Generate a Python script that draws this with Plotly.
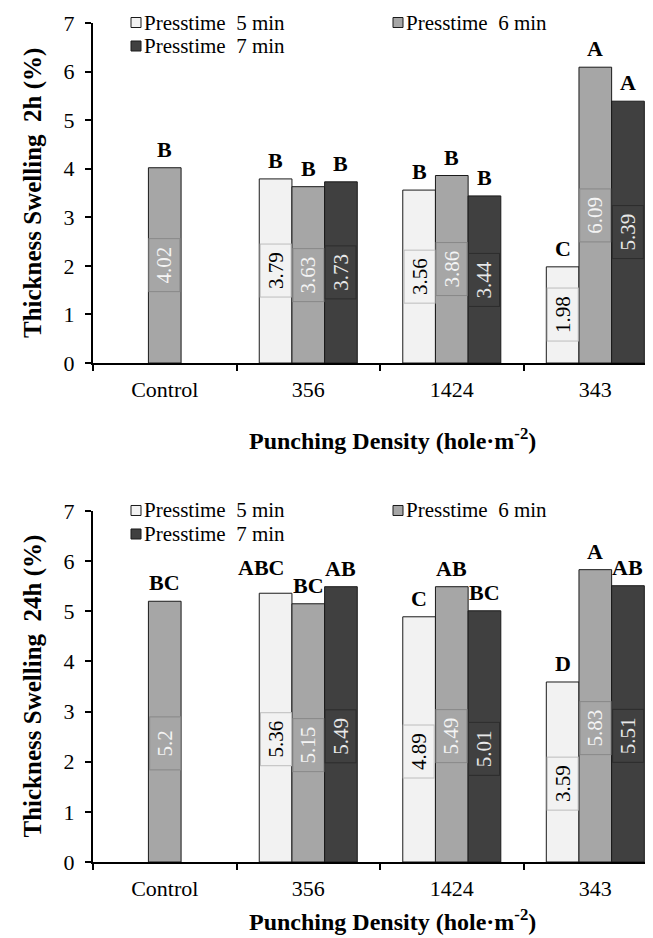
import plotly.graph_objects as go

# ---------------- data ----------------
categories = ["Control", "356", "1424", "343"]
series_names = ["Presstime\u00a0 5 min", "Presstime\u00a0 6 min", "Presstime\u00a0 7 min"]

ts2h_5 = [None, 3.79, 3.56, 1.98]
ts2h_6 = [4.02, 3.63, 3.86, 6.09]
ts2h_7 = [None, 3.73, 3.44, 5.39]
grp2h_5 = [None, "B", "B", "C"]
grp2h_6 = ["B", "B", "B", "A"]
grp2h_7 = [None, "B", "B", "A"]

ts24h_5 = [None, 5.36, 4.89, 3.59]
ts24h_6 = [5.2, 5.15, 5.49, 5.83]
ts24h_7 = [None, 5.49, 5.01, 5.51]
grp24h_5 = [None, "ABC", "C", "D"]
grp24h_6 = ["BC", "BC", "AB", "A"]
grp24h_7 = [None, "AB", "BC", "AB"]

y_ticks = [0, 1, 2, 3, 4, 5, 6, 7]
y_title_2h = "Thickness Swelling\u00a0 2h (%)"
y_title_24h = "Thickness Swelling\u00a0 24h (%)"
x_title = "Punching Density (hole\u00b7m<sup>-2</sup>)"

# ---------------- styles ----------------
FONT = "Liberation Serif, Times New Roman, serif"
bar_colors = ["#f2f2f2", "#a6a6a6", "#404040"]
label_text_colors = ["#000000", "#f4f4f4", "#e8e8e8"]
label_border_colors = ["#bdbdbd", "#888888", "#2c2c2c"]
BARGAP = 0.317
W = (1 - BARGAP) / 3

panels = [
    dict(vals=[ts2h_5, ts2h_6, ts2h_7], grps=[grp2h_5, grp2h_6, grp2h_7],
         xa="x", ya="y", ytitle=y_title_2h, domain=[0.59476, 1.0],
         label_shift=0, xtitle_shift=-76),
    dict(vals=[ts24h_5, ts24h_6, ts24h_7], grps=[grp24h_5, grp24h_6, grp24h_7],
         xa="x2", ya="y2", ytitle=y_title_24h, domain=[0.0, 0.41836],
         label_shift=-12, xtitle_shift=-58),
]
# manual nudges for crowded letters: (panel, category, series) -> (dx, dy) px
letter_nudges = {(1, 1, 0): (-15, 7)}

fig = go.Figure()
annotations = []
shapes = []

for p, panel in enumerate(panels):
    xdom = panel["xa"] + " domain"
    ydom = panel["ya"] + " domain"
    for j, vals in enumerate(panel["vals"]):
        fig.add_trace(go.Bar(
            x=list(range(len(categories))), y=vals, name=series_names[j],
            marker=dict(color=bar_colors[j], line=dict(color="#1a1a1a", width=1)),
            xaxis=panel["xa"], yaxis=panel["ya"], showlegend=False,
            hoverinfo="name+y",
        ))
        for i, v in enumerate(vals):
            if v is None:
                continue
            xpos = i + (j - 1) * W
            # value label box in the middle of the bar
            annotations.append(dict(
                x=xpos, y=v / 2, xref=panel["xa"], yref=panel["ya"],
                text=f"{v:g}", showarrow=False, textangle=-90,
                font=dict(family=FONT, size=21, color=label_text_colors[j]),
                bgcolor=bar_colors[j], bordercolor=label_border_colors[j],
                borderwidth=1, borderpad=0, width=52, height=30,
                xanchor="center", yanchor="middle", yshift=panel["label_shift"],
            ))
            # significance letter
            dx, dy = letter_nudges.get((p, i, j), (0, 0))
            annotations.append(dict(
                x=xpos, y=v, xref=panel["xa"], yref=panel["ya"],
                text="<b>%s</b>" % panel["grps"][j][i], showarrow=False,
                font=dict(family=FONT, size=22, color="black"),
                xanchor="center", yanchor="bottom", yshift=4 + dy, xshift=dx,
            ))
        # manual legend entry
        col, row = j % 2, j // 2
        yc = 0.5 - 23.5 * row
        shapes.append(dict(
            type="rect", xref=xdom, yref=ydom, xsizemode="pixel", ysizemode="pixel",
            xanchor=0, yanchor=1, x0=38 + 262 * col, x1=48 + 262 * col,
            y0=yc - 5, y1=yc + 5, fillcolor=bar_colors[j],
            line=dict(color="#1a1a1a", width=1),
        ))
        annotations.append(dict(
            x=0, y=1, xref=xdom, yref=ydom, text=series_names[j], showarrow=False,
            font=dict(family=FONT, size=21, color="black"), height=20, borderpad=0,
            xanchor="left", yanchor="middle", xshift=50 + 262 * col, yshift=yc,
        ))
    # axis titles
    annotations.append(dict(
        x=0, y=0.5, xref=xdom, yref=ydom, text="<b>%s</b>" % panel["ytitle"],
        showarrow=False, textangle=-90, xanchor="center", yanchor="middle",
        xshift=-60, font=dict(family=FONT, size=25, color="black"),
    ))
    annotations.append(dict(
        x=0.534, y=0, xref=xdom, yref=ydom, text="<b>%s</b>" % x_title,
        showarrow=False, xanchor="center", yanchor="middle",
        yshift=panel["xtitle_shift"], font=dict(family=FONT, size=24, color="black"),
    ))

axis_common_x = dict(
    range=[-0.5, 3.402], tickmode="array", tickvals=list(range(len(categories))),
    ticktext=categories, ticks="", showline=True, linecolor="black", linewidth=2,
    showgrid=False, zeroline=False, ticklabelstandoff=6,
    tickfont=dict(family=FONT, size=22, color="black"),
    minor=dict(tickmode="array", tickvals=[-0.5, 0.5, 1.5, 2.5, 3.5],
               ticks="outside", ticklen=6, tickwidth=2, tickcolor="black"),
)
axis_common_y = dict(
    range=[0, 7], tickmode="array", tickvals=y_ticks, ticks="outside", ticklen=6,
    tickwidth=2, tickcolor="black", showline=True, linecolor="black", linewidth=2,
    showgrid=False, zeroline=False, ticklabelstandoff=6,
    tickfont=dict(family=FONT, size=22, color="black"),
)

# the page body adds an 8 px offset, so the figure is 8 px smaller than the window
fig.update_layout(
    width=645, height=930,
    margin=dict(l=85, r=0, t=15, b=76, autoexpand=False),
    paper_bgcolor="white", plot_bgcolor="white",
    barmode="group", bargap=BARGAP, bargroupgap=0,
    showlegend=False,
    xaxis=dict(domain=[0, 1], anchor="y", **axis_common_x),
    yaxis=dict(domain=panels[0]["domain"], anchor="x", **axis_common_y),
    xaxis2=dict(domain=[0, 1], anchor="y2", **axis_common_x),
    yaxis2=dict(domain=panels[1]["domain"], anchor="x2", **axis_common_y),
    annotations=annotations, shapes=shapes,
    font=dict(family=FONT, color="black"),
)

fig.write_html("out.html")
